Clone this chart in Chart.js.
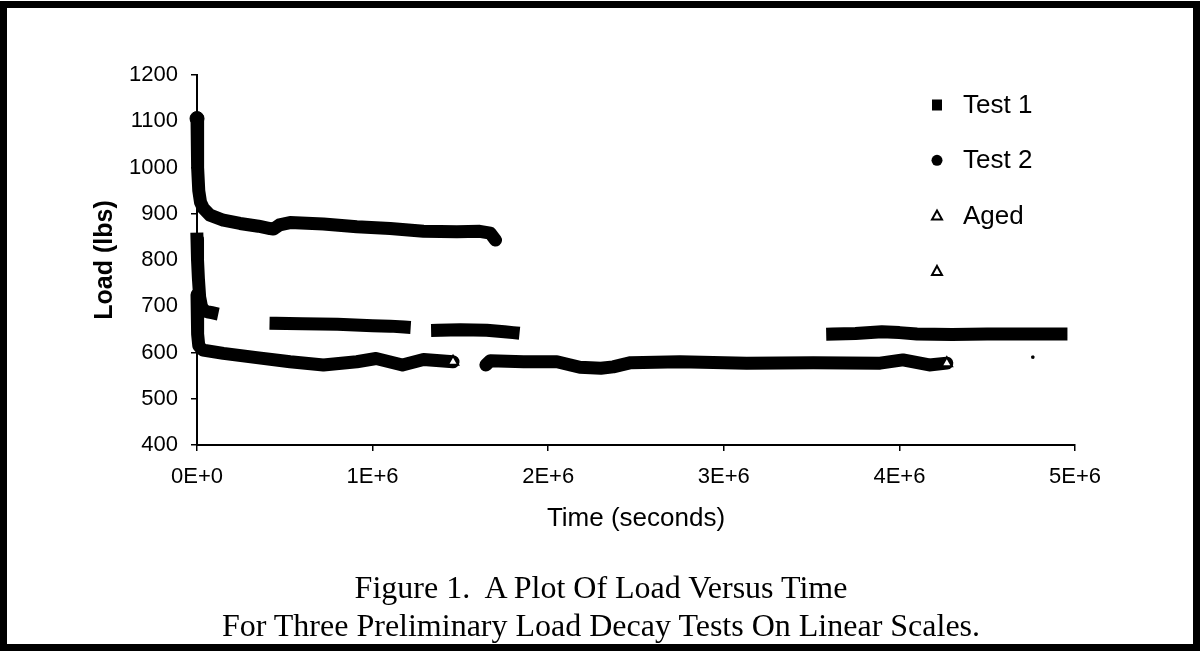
<!DOCTYPE html>
<html>
<head>
<meta charset="utf-8">
<script src="https://cdn.jsdelivr.net/npm/chart.js@4.4.1/dist/chart.umd.min.js"></script>
<style>
  html, body { margin: 0; padding: 0; background: #fff; }
  #wrap { position: relative; width: 1202px; height: 655px; overflow: hidden; }
  #frame {
    position: absolute; left: 0; top: 1px; width: 1200px; height: 650px;
    box-sizing: border-box; border: 7px solid #000; pointer-events: none;
  }
  #chart { position: absolute; left: 0; top: 0; }
  .cap {
    position: absolute; left: 0; width: 1202px; text-align: center;
    font-family: "Liberation Serif", "Times New Roman", serif; font-size: 32px;
    line-height: 38px; color: #000; white-space: pre;
  }
</style>
</head>
<body>
<div id="wrap">
  <canvas id="chart" width="1202" height="655"></canvas>
  <div class="cap" style="top:568px">Figure 1.&nbsp; A Plot Of Load Versus Time</div>
  <div class="cap" style="top:606px">For Three Preliminary Load Decay Tests On Linear Scales.</div>
  <div id="frame"></div>
</div>
<script>
// values (time in seconds, load in lbs); null = gap in the record
const test1Time = [0, 3000, 8000, 15000, 25000, 40000, 60000, 85000, 250000,
  450000, 600000, 800000, 1000000, 1100000, 1180000, 1280000,
  1370000, 1500000, 1650000, 1750000, 1800000, 2700000,
  3620000, 3750000, 3900000, 4000000, 4100000, 4300000, 4500000, 4700000, 4920000];
const test1Load = [845, 800, 760, 720, 700, 690, 688, 686, null,
  663, 662, 661, 658, 657, 655, null,
  648, 649, 648, 645, 643, null,
  640, 641, 645, 643, 640, 639, 640, 640, 640];

const test2Time = [0, 2000, 5000, 10000, 20000, 36000, 74000, 150000, 245000, 350000,
  416000, 435000, 470000, 530000, 720000, 910000, 1100000, 1290000, 1480000, 1610000,
  1670000, 1700000];
const test2Load = [1106, 1060, 1000, 950, 925, 912, 897, 886, 879, 873,
  868, 867, 876, 881, 878, 872, 868, 862, 861, 862,
  858, 843];

const agedTime = [0, 2000, 5000, 10000, 20000, 35000, 150000, 340000, 530000, 720000,
  910000, 1020000, 1170000, 1290000, 1458000, 1550000,
  1645000, 1670000, 1860000, 2050000, 2180000, 2300000, 2370000, 2470000, 2750000,
  3130000, 3510000, 3890000, 4020000, 4170000, 4270000];
const agedLoad = [725, 680, 640, 615, 610, 605, 598, 589, 580, 573,
  580, 587, 573, 585, 580, null,
  573, 582, 580, 580, 568, 566, 569, 578, 580,
  577, 578, 577, 584, 573, 577];

const extraTime = [4760000];
const extraLoad = [590];

const legendNames = ['Test 1', 'Test 2', 'Aged', ''];
const legendMarks = ['rect', 'circle', 'triangle', 'triangle'];

const xTickLabels = ['0E+0', '1E+6', '2E+6', '3E+6', '4E+6', '5E+6'];
const yTicks = [400, 500, 600, 700, 800, 900, 1000, 1100, 1200];

function pts(t, v) {
  return t.map((x, i) => ({ x: x, y: v[i] }));
}

// triangle markers only where an Aged run ends
function agedRadius(c) {
  const i = c.dataIndex;
  const last = i === agedLoad.length - 1 || agedLoad[i + 1] === null;
  return last && agedLoad[i] !== null ? 6 : 0;
}

const FONT = '"Liberation Sans", Arial, sans-serif';

const sideLegend = {
  id: 'sideLegend',
  afterDraw(chart) {
    const ctx = chart.ctx;
    ctx.save();
    ctx.font = '26px ' + FONT;
    ctx.textBaseline = 'middle';
    ctx.fillStyle = '#000';
    ctx.strokeStyle = '#000';
    legendNames.forEach((name, i) => {
      const x = 937, y = 105 + i * 55.3;
      ctx.lineWidth = 2;
      if (legendMarks[i] === 'rect') {
        ctx.fillRect(x - 5, y - 5.5, 10, 11);
      } else if (legendMarks[i] === 'circle') {
        ctx.beginPath(); ctx.arc(x, y, 5.5, 0, Math.PI * 2); ctx.fill();
      } else {
        ctx.beginPath();
        ctx.moveTo(x, y - 5); ctx.lineTo(x + 5, y + 4); ctx.lineTo(x - 5, y + 4);
        ctx.closePath();
        ctx.fillStyle = '#fff'; ctx.fill(); ctx.stroke();
        ctx.fillStyle = '#000';
      }
      if (name) ctx.fillText(name, 963, y + 1);
    });
    ctx.restore();
  }
};

new Chart(document.getElementById('chart'), {
  type: 'scatter',
  data: {
    datasets: [
      {
        label: 'Test 1', data: pts(test1Time, test1Load), showLine: true,
        borderColor: '#000', borderWidth: 13, borderCapStyle: 'square', borderJoinStyle: 'round',
        pointRadius: 0, pointBorderWidth: 1, clip: false
      },
      {
        label: 'Test 2', data: pts(test2Time, test2Load), showLine: true,
        borderColor: '#000', borderWidth: 13, borderCapStyle: 'round', borderJoinStyle: 'round',
        pointStyle: 'circle', backgroundColor: '#000', pointBorderColor: '#000', pointBorderWidth: 1,
        pointRadius: c => c.dataIndex === 0 ? 7 : 0, clip: false
      },
      {
        label: 'Aged', data: pts(agedTime, agedLoad), showLine: true,
        borderColor: '#000', borderWidth: 13, borderCapStyle: 'round', borderJoinStyle: 'round',
        pointStyle: 'triangle', pointBackgroundColor: '#fff', pointBorderColor: '#000',
        pointBorderWidth: 2, pointRadius: agedRadius, clip: false
      },
      {
        label: '', data: pts(extraTime, extraLoad), showLine: false,
        pointStyle: 'rect', pointRadius: 1.6, pointBorderWidth: 1, backgroundColor: '#000', borderColor: '#000'
      }
    ]
  },
  options: {
    responsive: false,
    animation: false,
    events: [],
    layout: { padding: { left: 80, top: 75, right: 127, bottom: 120.6 } },
    plugins: { legend: { display: false }, tooltip: { enabled: false } },
    scales: {
      x: {
        type: 'linear', min: 0, max: 5000000,
        afterBuildTicks: s => { s.ticks = xTickLabels.map((_, i) => ({ value: i * 1000000 })); },
        afterFit: s => { s.height = 89.4; },
        ticks: {
          color: '#000', padding: 13, maxRotation: 0,
          font: { family: FONT, size: 22 },
          callback: (v, i) => xTickLabels[i]
        },
        grid: { drawOnChartArea: false, drawTicks: true, tickLength: 6, color: '#000', lineWidth: 1.5 },
        border: { color: '#000', width: 2 },
        title: {
          display: true, text: 'Time (seconds)', color: '#000',
          font: { family: FONT, size: 26 }, padding: { top: 0, bottom: 0 }
        }
      },
      y: {
        type: 'linear', min: 400, max: 1200,
        afterBuildTicks: s => { s.ticks = yTicks.map(v => ({ value: v })); },
        afterFit: s => { s.width = 117; },
        ticks: {
          color: '#000', padding: 13, font: { family: FONT, size: 22 },
          callback: v => String(v)
        },
        grid: { drawOnChartArea: false, drawTicks: true, tickLength: 6, color: '#000', lineWidth: 1.5 },
        border: { color: '#000', width: 2 },
        title: {
          display: true, text: 'Load (lbs)', color: '#000',
          font: { family: FONT, size: 25, weight: 'bold' }, padding: { top: 10, bottom: 0 }
        }
      }
    }
  },
  plugins: [sideLegend]
});
</script>
</body>
</html>
